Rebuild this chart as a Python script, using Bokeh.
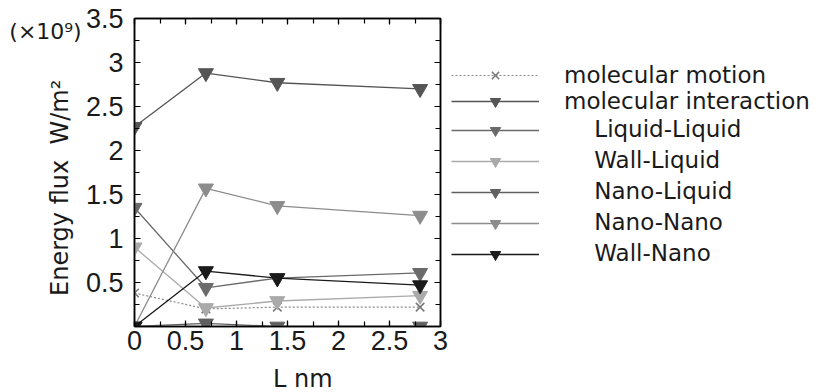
from bokeh.plotting import figure
from bokeh.layouts import row
from bokeh.models import Range1d, LinearAxis, Legend, LegendItem, FixedTicker
from bokeh.core.properties import value
from bokeh.embed import file_html
from bokeh.resources import INLINE

# ---- data ----
L = [0.0, 0.7, 1.4, 2.8]
molecular_motion = [0.38, 0.20, 0.22, 0.22]
molecular_interaction = [2.27, 2.88, 2.77, 2.70]
liquid_liquid = [1.35, 0.44, 0.55, 0.61]
wall_liquid = [0.90, 0.21, 0.29, 0.35]
nano_liquid = [0.0, 0.035, 0.0, 0.0]
nano_nano = [0.0, 1.57, 1.37, 1.26]
wall_nano = [0.0, 0.63, 0.55, 0.47]

series_names = ["molecular motion", "molecular interaction", "Liquid-Liquid",
                "Wall-Liquid", "Nano-Liquid", "Nano-Nano", "Wall-Nano"]
x_ticks = [0, 0.5, 1, 1.5, 2, 2.5, 3]
y_ticks = [0, 0.5, 1, 1.5, 2, 2.5, 3, 3.5]

TICK_FONT = "Liberation Sans"
TEXT_FONT = "DejaVu Sans"
TXT = "#1a1a1a"
H = 392
FRAME_H = 308
TOP = 18

colors = ["#8a8a8a", "#555555", "#6a6a6a", "#aaaaaa", "#606060", "#8c8c8c", "#1a1a1a"]
data = [molecular_motion, molecular_interaction, liquid_liquid, wall_liquid,
        nano_liquid, nano_nano, wall_nano]

# ---- left text panel (its frame is aligned with the main frame: 18..326) ----
left = figure(width=82, height=H, output_backend="svg", toolbar_location=None,
              x_range=Range1d(0, 82), y_range=Range1d(0, FRAME_H),
              x_axis_type=None, y_axis_type=None, min_border=0)
left.grid.visible = False
left.outline_line_color = None
left.text(x=[45], y=[TOP + FRAME_H - 31], text=["(\u00d710\u2079)"],
          text_font=value(TEXT_FONT), text_font_size="22px", text_align="center",
          text_baseline="middle", text_color=TXT)
left.text(x=[59], y=[TOP + FRAME_H - 189], text=["Energy flux\u00a0\u00a0W/m\u00b2"],
          angle=1.5707963, text_font=value(TEXT_FONT), text_font_size="24px",
          text_align="center", text_baseline="middle", text_color=TXT)

# ---- main plot ----
p = figure(frame_width=306, frame_height=FRAME_H, output_backend="svg",
           toolbar_location=None, x_range=Range1d(0, 3), y_range=Range1d(0, 3.5),
           min_border_left=50, min_border_right=8, min_border_top=TOP,
           min_border_bottom=H - TOP - FRAME_H)
p.grid.visible = False
p.outline_line_color = "black"
p.outline_line_width = 1.5

def style_axis(ax, show_labels=True):
    ax.axis_line_color = "black"
    ax.axis_line_width = 1.5
    ax.major_tick_in = 6
    ax.major_tick_out = 0
    ax.minor_tick_in = 5
    ax.minor_tick_out = 0
    ax.major_tick_line_color = "black"
    ax.minor_tick_line_color = "black"
    ax.major_tick_line_width = 1.2
    ax.minor_tick_line_width = 1.2
    if show_labels:
        ax.major_label_text_font = TICK_FONT
        ax.major_label_text_font_size = "27px"
        ax.major_label_text_color = TXT
    else:
        ax.major_label_text_font_size = "0px"
        ax.major_label_text_alpha = 0

xt = FixedTicker(ticks=x_ticks, minor_ticks=[i * 0.25 for i in range(13)])
yt = FixedTicker(ticks=y_ticks, minor_ticks=[i * 0.25 for i in range(15)])
p.xaxis.ticker = xt
p.yaxis.ticker = yt
style_axis(p.xaxis[0])
style_axis(p.yaxis[0])
p.xaxis.major_label_standoff = 4
p.yaxis.major_label_standoff = 11
p.yaxis.major_label_overrides = {0: ""}
p.xaxis.axis_label = "\u00a0\u00a0\u00a0\u00a0L nm"
p.xaxis.axis_label_text_font = TEXT_FONT
p.xaxis.axis_label_text_font_size = "24px"
p.xaxis.axis_label_text_font_style = "normal"
p.xaxis.axis_label_text_color = TXT
p.xaxis.axis_label_standoff = 12

top = LinearAxis(ticker=xt)
style_axis(top, False)
p.add_layout(top, "above")
right = LinearAxis(ticker=yt)
style_axis(right, False)
p.add_layout(right, "right")

def draw(fig):
    rs = []
    for i, (ys, c) in enumerate(zip(data, colors)):
        if i == 0:
            r1 = fig.line(L, ys, line_color=c, line_width=1.2, line_dash="2 2")
            r2 = fig.scatter(L, ys, marker="x", size=12, line_color="#777777",
                             line_width=1.5)
        else:
            r1 = fig.line(L, ys, line_color=c, line_width=1.3)
            r2 = fig.scatter(L, ys, marker="inverted_triangle", size=15,
                             fill_color=c, line_color=c)
        rs.append((r1, r2))
    return rs

draw(p)

# ---- legend panel ----
lg = figure(width=364, height=H, output_backend="svg", toolbar_location=None,
            x_range=Range1d(10, 11), y_range=Range1d(10, 11),
            x_axis_type=None, y_axis_type=None, min_border=0)
lg.grid.visible = False
lg.outline_line_color = None
rs = draw(lg)
items = []
for i, (name, (r1, r2)) in enumerate(zip(series_names, rs)):
    label = name if i < 2 else "\u3000\u00a0" + name
    items.append(LegendItem(label=label, renderers=[r1, r2]))
legend = Legend(items=items, location=(3, 54))
legend.glyph_width = 88
legend.glyph_height = 26
legend.label_height = 26
legend.spacing = -4
legend.padding = 0
legend.margin = 0
legend.label_standoff = 25
legend.label_text_font = TEXT_FONT
legend.label_text_font_size = "23px"
legend.label_text_color = TXT
legend.border_line_alpha = 0
legend.background_fill_alpha = 0
lg.add_layout(legend, "center")

layout = row(left, p, lg, spacing=0)
open("out.html", "w").write(file_html(layout, INLINE))
